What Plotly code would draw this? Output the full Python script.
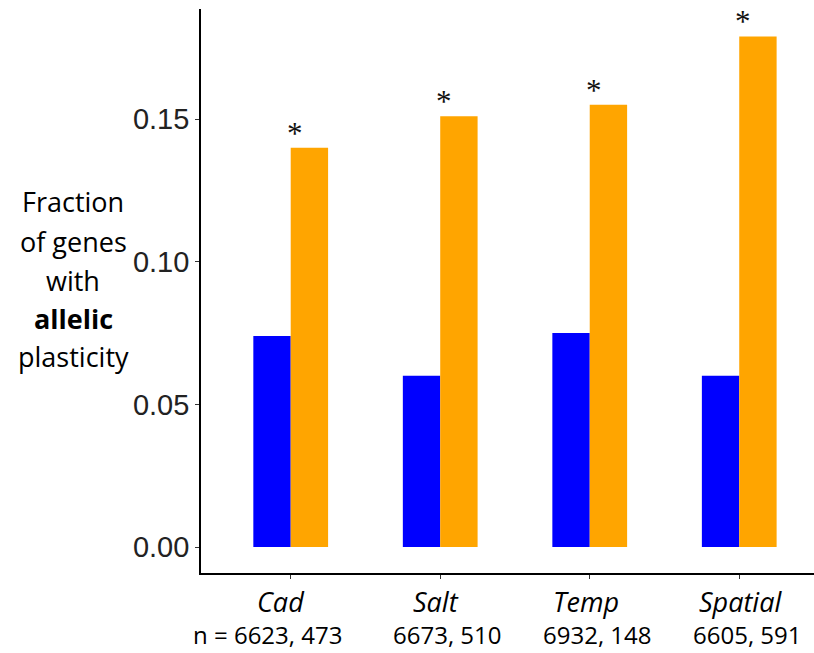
import plotly.graph_objects as go

categories = ["Cad", "Salt", "Temp", "Spatial"]
n_labels = ["n = 6623, 473", "6673, 510", "6932, 148", "6605, 591"]
blue_vals = [0.074, 0.060, 0.075, 0.060]
orange_vals = [0.140, 0.151, 0.155, 0.179]
sig_marks = ["*", "*", "*", "*"]
y_tick_vals = [0.00, 0.05, 0.10, 0.15]
y_tick_text = ["0.00", "0.05", "0.10", "0.15"]
y_title_lines = ["Fraction", "of genes", "with", "<b>allelic</b>", "plasticity"]

W, H = 814, 653
L, R, T, B = 201, 0, 9, 80
pw, ph = W - L - R, H - T - B

xs = list(range(len(categories)))

fig = go.Figure()
fig.add_bar(x=xs, y=blue_vals, marker=dict(color="#0000FF", line=dict(width=0)), showlegend=False)
fig.add_bar(x=xs, y=orange_vals, marker=dict(color="#FFA500", line=dict(width=0)), showlegend=False)

ann = []
# significance asterisks
for i, (v, s) in enumerate(zip(orange_vals, sig_marks)):
    ann.append(dict(x=i, y=v, xref="x", yref="y", text=s, showarrow=False,
                    xanchor="center", yanchor="bottom", xshift=4, yshift=-5,
                    font=dict(family="Liberation Serif", size=31, color="#111")))

def py(p):
    return (H - B - p) / ph

def px(p):
    return (p - L) / pw

cat_x = [281, 436, 586, 740]
n_x = [267, 447, 597, 747]
for c, cx, n, nx in zip(categories, cat_x, n_labels, n_x):
    ann.append(dict(x=px(cx), y=py(601), xref="paper", yref="paper", text=f"<i>{c}</i>",
                    showarrow=False, xanchor="center", yanchor="middle",
                    font=dict(family="Open Sans", size=27, color="black")))
    ann.append(dict(x=px(nx), y=py(634), xref="paper", yref="paper", text=n,
                    showarrow=False, xanchor="center", yanchor="middle",
                    font=dict(family="Open Sans", size=24, color="black")))

title_y = [201, 241, 280, 318, 356]
for t, yy in zip(y_title_lines, title_y):
    ann.append(dict(x=px(73), y=py(yy), xref="paper", yref="paper", text=t,
                    showarrow=False, xanchor="center", yanchor="middle",
                    font=dict(family="Open Sans", size=27, color="black")))

fig.update_layout(
    width=W, height=H,
    margin=dict(l=L, r=R, t=T, b=B, pad=0),
    paper_bgcolor="white", plot_bgcolor="white",
    barmode="group", bargap=0.5, bargroupgap=0,
    annotations=ann,
    xaxis=dict(range=[-0.6, 3.5], tickvals=xs, ticktext=[""] * len(xs),
               showgrid=False, zeroline=False, showline=True, linecolor="black", linewidth=1.6,
               ticks="outside", ticklen=4, tickcolor="#333", tickwidth=1),
    yaxis=dict(range=[-0.0091, 0.1886], tickvals=y_tick_vals, ticktext=y_tick_text,
               showgrid=False, zeroline=False, showline=True, linecolor="black", linewidth=1.6,
               ticks="outside", ticklen=4, tickcolor="#333", tickwidth=1,
               tickfont=dict(family="Liberation Sans", size=29, color="#222")),
)

fig.write_html("out.html")
